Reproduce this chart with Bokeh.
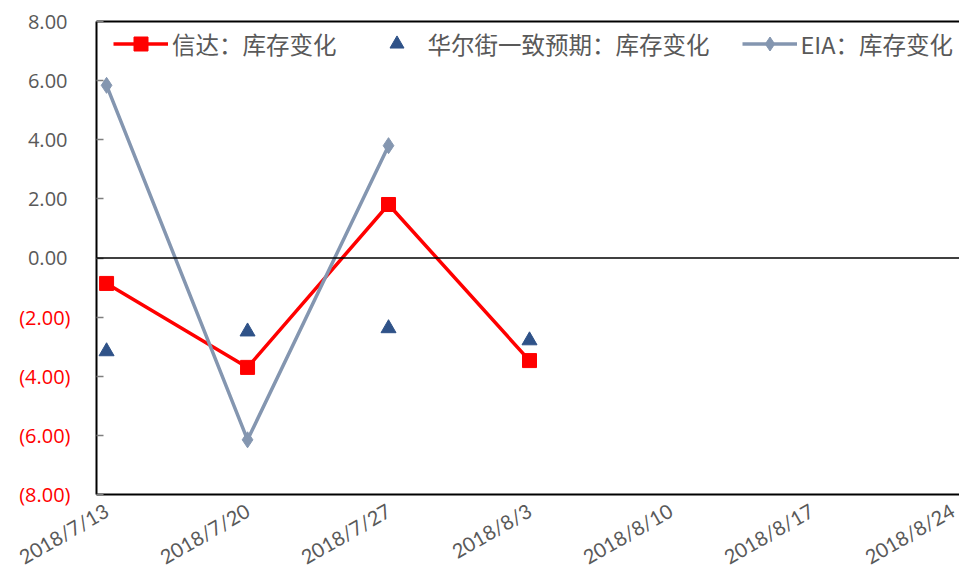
import pandas as pd
from bokeh.plotting import figure
from bokeh.models import (ColumnDataSource, FixedTicker, LinearAxis, Range1d,
                          Span, Legend, LegendItem)
from bokeh.embed import file_html
from bokeh.resources import INLINE

# ---- data ----
dates = ["2018/7/13", "2018/7/20", "2018/7/27", "2018/8/3",
         "2018/8/10", "2018/8/17", "2018/8/24"]
xinda = [-0.86, -3.70, 1.81, -3.47]          # 信达：库存变化
consensus = [-3.16, -2.49, -2.38, -2.79]     # 华尔街一致预期：库存变化
eia = [5.84, -6.15, 3.80]                    # EIA：库存变化
y_ticks = [-8, -6, -4, -2, 0, 2, 4, 6, 8]

d = pd.to_datetime(dates, format="%Y/%m/%d")
days = [(t - d[0]).days for t in d]

src_x = ColumnDataSource(dict(x=days[:len(xinda)], y=xinda))
src_c = ColumnDataSource(dict(x=days[:len(consensus)], y=consensus))
src_e = ColumnDataSource(dict(x=days[:len(eia)], y=eia))

FONT = "Open Sans"
XFONT = "Lato"
CJK = "Noto Sans CJK SC"
GRAY = "#595959"

p = figure(width=959, height=581, output_backend="svg", toolbar_location=None,
           x_range=Range1d(-0.5, 42.35), y_range=Range1d(-8, 8),
           min_border_left=96, min_border_top=21, min_border_bottom=87,
           min_border_right=0, x_axis_type=None, y_axis_type=None)
p.outline_line_color = None
p.xgrid.visible = False
p.ygrid.visible = False

# zero line
p.add_layout(Span(location=0, dimension="width", line_color="black", line_width=1.5))

# x axis (below)
xa = LinearAxis(ticker=FixedTicker(ticks=days),
                major_label_overrides={float(k): lab for k, lab in zip(days, dates)})
xa.axis_line_color = "black"
xa.axis_line_width = 2
xa.major_tick_in = 0
xa.major_tick_out = 0
xa.minor_tick_line_color = None
xa.major_label_orientation = 0.5236
xa.major_label_text_font = XFONT
xa.major_label_text_font_size = "20px"
xa.major_label_text_color = GRAY
xa.major_label_standoff = 14
p.add_layout(xa, "below")

# top border axis
ta = LinearAxis(ticker=FixedTicker(ticks=[]))
ta.axis_line_color = "black"
ta.axis_line_width = 2
ta.major_tick_in = 0
ta.major_tick_out = 0
ta.minor_tick_line_color = None
ta.major_label_text_font_size = "0px"
p.add_layout(ta, "above")

# y axis: non-negative labels (gray)
pos_over = {}
for t in y_ticks:
    pos_over[float(t)] = f"{t:.2f}" if t >= 0 else ""
ya = LinearAxis(ticker=FixedTicker(ticks=y_ticks), major_label_overrides=pos_over)
ya.axis_line_color = "black"
ya.axis_line_width = 2
ya.major_tick_in = 7
ya.major_tick_out = 0
ya.major_tick_line_color = "#7F7F7F"
ya.major_tick_line_width = 1.5
ya.minor_tick_line_color = None
ya.major_label_text_font = FONT
ya.major_label_text_font_size = "20px"
ya.major_label_text_color = GRAY
ya.major_label_standoff = 29
p.add_layout(ya, "left")

# y axis: negative labels (red, in parentheses) - outer axis pulled back in
neg_ticks = [t for t in y_ticks if t < 0]
neg_over = {float(t): f"({abs(t):.2f})" for t in neg_ticks}
yn = LinearAxis(ticker=FixedTicker(ticks=neg_ticks), major_label_overrides=neg_over)
yn.axis_line_color = None
yn.major_tick_in = 0
yn.major_tick_out = 0
yn.minor_tick_line_color = None
yn.major_label_text_font = FONT
yn.major_label_text_font_size = "20px"
yn.major_label_text_color = "#FF0000"
yn.major_label_standoff = -46
p.add_layout(yn, "left")

# series
RED = "#FF0000"
BLUE = "#2F5288"
EIAC = "#8496B0"
l1 = p.line("x", "y", source=src_x, line_color=RED, line_width=3.5)
m1 = p.scatter("x", "y", source=src_x, marker="square", size=14, color=RED)
m2 = p.scatter("x", "y", source=src_c, marker="triangle", size=15, color=BLUE)
l3 = p.line("x", "y", source=src_e, line_color=EIAC, line_width=3.5)
m3 = p.scatter("x", "y", source=src_e, marker="diamond", size=16, color=EIAC)

legend = Legend(items=[
    LegendItem(label="信达：库存变化", renderers=[l1, m1]),
    LegendItem(label="华尔街一致预期：库存变化", renderers=[m2]),
    LegendItem(label="EIA：库存变化", renderers=[l3, m3]),
], orientation="horizontal", location=(17, 433))
legend.label_text_font = CJK
legend.label_text_font_size = "23.5px"
legend.label_text_color = GRAY
legend.glyph_width = 55
legend.glyph_height = 35
legend.label_height = 35
legend.label_standoff = 4
legend.spacing = 32
legend.padding = 0
legend.margin = 0
legend.border_line_color = None
legend.background_fill_alpha = 0
p.add_layout(legend, "center")

open("out.html", "w").write(file_html(p, INLINE))
